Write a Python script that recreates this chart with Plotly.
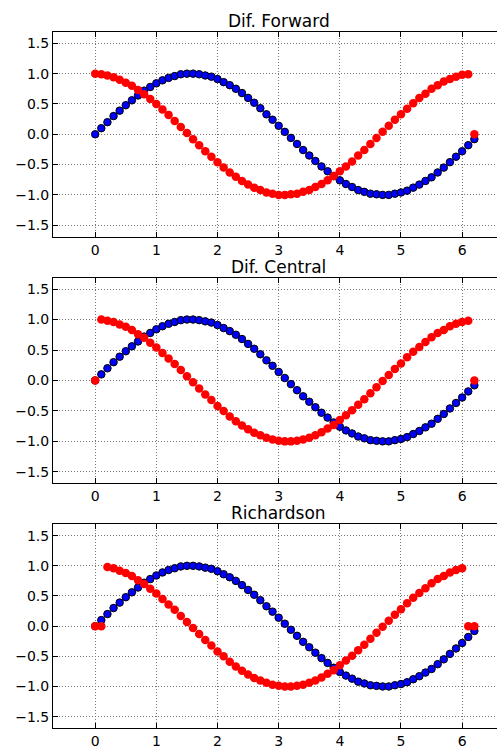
import plotly.graph_objects as go

# Sample points
x = [0.0, 0.1, 0.2, 0.3, 0.4, 0.5, 0.6, 0.7, 0.8, 0.9,
     1.0, 1.1, 1.2, 1.3, 1.4, 1.5, 1.6, 1.7, 1.8, 1.9,
     2.0, 2.1, 2.2, 2.3, 2.4, 2.5, 2.6, 2.7, 2.8, 2.9,
     3.0, 3.1, 3.2, 3.3, 3.4, 3.5, 3.6, 3.7, 3.8, 3.9,
     4.0, 4.1, 4.2, 4.3, 4.4, 4.5, 4.6, 4.7, 4.8, 4.9,
     5.0, 5.1, 5.2, 5.3, 5.4, 5.5, 5.6, 5.7, 5.8, 5.9,
     6.0, 6.1, 6.2]

# Function values (blue)
f_vals = [0.00, 0.10, 0.20, 0.30, 0.39, 0.48, 0.56, 0.64, 0.72, 0.78,
          0.84, 0.89, 0.93, 0.96, 0.99, 1.00, 1.00, 0.99, 0.97, 0.95,
          0.91, 0.86, 0.81, 0.75, 0.68, 0.60, 0.52, 0.43, 0.33, 0.24,
          0.14, 0.04, -0.06, -0.16, -0.26, -0.35, -0.44, -0.53, -0.61, -0.69,
          -0.76, -0.82, -0.87, -0.92, -0.95, -0.98, -0.99, -1.00, -1.00, -0.98,
          -0.96, -0.93, -0.88, -0.83, -0.77, -0.71, -0.63, -0.55, -0.46, -0.37,
          -0.28, -0.18, -0.08]

# Derivative estimates (red)
d_forward = [1.00, 0.99, 0.97, 0.94, 0.90, 0.85, 0.80, 0.73, 0.66, 0.58,
             0.50, 0.41, 0.32, 0.22, 0.12, 0.02, -0.08, -0.18, -0.28, -0.37,
             -0.46, -0.55, -0.63, -0.70, -0.77, -0.83, -0.88, -0.92, -0.96, -0.98,
             -1.00, -1.00, -0.99, -0.98, -0.95, -0.92, -0.87, -0.82, -0.76, -0.69,
             -0.61, -0.53, -0.45, -0.35, -0.26, -0.16, -0.06, 0.04, 0.14, 0.24,
             0.33, 0.42, 0.51, 0.60, 0.67, 0.75, 0.81, 0.87, 0.91, 0.95,
             0.98, 0.99, 0.00]

d_central = [0.00, 1.00, 0.98, 0.96, 0.92, 0.88, 0.83, 0.76, 0.70, 0.62,
             0.54, 0.45, 0.36, 0.27, 0.17, 0.07, -0.03, -0.13, -0.23, -0.32,
             -0.42, -0.50, -0.59, -0.67, -0.74, -0.80, -0.86, -0.90, -0.94, -0.97,
             -0.99, -1.00, -1.00, -0.99, -0.97, -0.94, -0.90, -0.85, -0.79, -0.73,
             -0.65, -0.57, -0.49, -0.40, -0.31, -0.21, -0.11, -0.01, 0.09, 0.19,
             0.28, 0.38, 0.47, 0.55, 0.63, 0.71, 0.78, 0.83, 0.89, 0.93,
             0.96, 0.98, 0.00]

d_richardson = [0.00, 0.00, 0.98, 0.96, 0.92, 0.88, 0.83, 0.76, 0.70, 0.62,
                0.54, 0.45, 0.36, 0.27, 0.17, 0.07, -0.03, -0.13, -0.23, -0.32,
                -0.42, -0.50, -0.59, -0.67, -0.74, -0.80, -0.86, -0.90, -0.94, -0.97,
                -0.99, -1.00, -1.00, -0.99, -0.97, -0.94, -0.90, -0.85, -0.79, -0.73,
                -0.65, -0.57, -0.49, -0.40, -0.31, -0.21, -0.11, -0.01, 0.09, 0.19,
                0.28, 0.38, 0.47, 0.55, 0.63, 0.71, 0.78, 0.83, 0.89, 0.93,
                0.96, 0.00, 0.00]

titles = ["Dif. Forward", "Dif. Central", "Richardson"]
derivs = [d_forward, d_central, d_richardson]
x_ticks = [0, 1, 2, 3, 4, 5, 6]
y_ticks = [-1.5, -1.0, -0.5, 0.0, 0.5, 1.0, 1.5]
y_ticktext = ["\u22121.5", "\u22121.0", "\u22120.5", "0.0", "0.5", "1.0", "1.5"]

W, H = 497, 749
left_px = 53
# (top, bottom) of each panel in pixels
panels_px = [(32, 238), (279, 486), (527, 732)]

FONT = "DejaVu Sans"
fig = go.Figure()

for i, (title, d) in enumerate(zip(titles, derivs)):
    n = i + 1
    xa = "x" if n == 1 else f"x{n}"
    ya = "y" if n == 1 else f"y{n}"
    fig.add_trace(go.Scatter(
        x=x, y=f_vals, mode="markers", xaxis=xa, yaxis=ya,
        marker=dict(size=7.5, color="#0000ff", line=dict(color="black", width=1)),
        showlegend=False))
    fig.add_trace(go.Scatter(
        x=x, y=d, mode="markers", xaxis=xa, yaxis=ya,
        marker=dict(size=8.5, color="#ff0000", line=dict(color="#ff0000", width=0)),
        showlegend=False))

    top, bot = panels_px[i]
    axis_common = dict(
        showline=True, linecolor="black", linewidth=1,
        showgrid=True, gridcolor="#777777", gridwidth=1, griddash="1px,2px",
        zeroline=False, ticks="inside", ticklen=5, tickwidth=1, tickcolor="black",
        tickfont=dict(family=FONT, size=14, color="black"),
    )
    fig.layout[f"xaxis{'' if n == 1 else n}"] = dict(
        axis_common, domain=[left_px / W, 1.0], range=[-0.69, 6.57],
        tickvals=x_ticks, ticktext=[str(t) for t in x_ticks],
        mirror="allticks", anchor=ya)
    fig.layout[f"yaxis{'' if n == 1 else n}"] = dict(
        axis_common, domain=[1 - bot / H, 1 - top / H], range=[-1.69, 1.69],
        tickvals=y_ticks, ticktext=y_ticktext, mirror=False, anchor=xa)

    fig.add_annotation(
        text=title, xref="paper", yref="paper",
        x=(left_px + 451 / 2) / W, y=1 - (top - 11) / H,
        xanchor="center", yanchor="middle", showarrow=False, borderpad=0,
        font=dict(family=FONT, size=17, color="black"))

fig.update_layout(
    width=W, height=H, margin=dict(l=0, r=0, t=0, b=0),
    paper_bgcolor="white", plot_bgcolor="white",
)

fig.write_html("out.html")
